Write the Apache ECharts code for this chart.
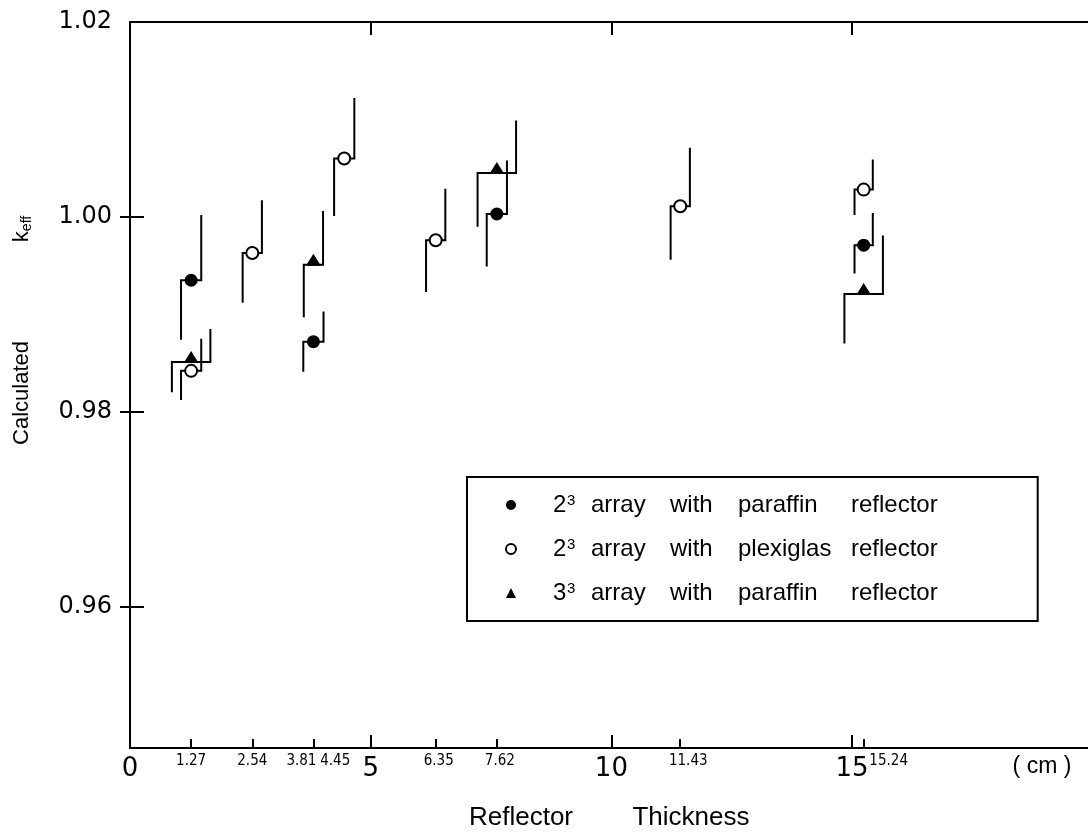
<!DOCTYPE html>
<html><head><meta charset="utf-8">
<script src="https://cdn.jsdelivr.net/npm/echarts@6/dist/echarts.min.js"></script>
<style>html,body{margin:0;padding:0;background:#fff}#c{width:1088px;height:833px}</style>
</head><body><div id="c"></div>
<script>
// ---- data (reflector thickness in cm, calculated k_eff) ----
const seriesNames = ['2x3 paraffin', '2x3 plexiglas', '3x3 paraffin'];

const paraffin2X    = [1.27, 3.81, 7.62, 15.24];
const paraffin2K    = [0.9935, 0.9872, 1.0003, 0.9971];
const paraffin2Low  = [0.9874, 0.9841, 0.9949, 0.9942];
const paraffin2High = [1.0002, 0.9903, 1.0058, 1.0004];

const plexiglas2X    = [1.27, 2.54, 4.45, 6.35, 11.43, 15.24];
const plexiglas2K    = [0.9842, 0.9963, 1.0060, 0.9976, 1.0011, 1.0028];
const plexiglas2Low  = [0.9812, 0.9912, 1.0001, 0.9923, 0.9956, 1.0002];
const plexiglas2High = [0.9875, 1.0017, 1.0122, 1.0029, 1.0071, 1.0059];

const paraffin3X    = [1.27, 3.81, 7.62, 15.24];
const paraffin3K    = [0.9851, 0.9951, 1.0045, 0.9921];
const paraffin3Low  = [0.9820, 0.9897, 0.9990, 0.9870];
const paraffin3High = [0.9885, 1.0006, 1.0099, 0.9981];

const majorXLabels = [0, 5, 10, 15];
const majorXTicks  = [5, 10, 15];
const minorXLabels = [1.27, 2.54, 3.81, 4.45, 6.35, 7.62, 11.43, 15.24];
const minorXTicks  = [1.27, 2.54, 3.81, 6.35, 7.62, 11.43, 15.24];
const yLabels = [0.96, 0.98, 1.00, 1.02];
const yTicks  = [0.96, 0.98, 1.00];

const legendBase = ['2', '2', '3'];
const legendMaterial = ['paraffin', 'plexiglas', 'paraffin'];

// ---- drawing parameters ----
// half width of the step bar, in cm
const stepHalf = {
  0: [0.21, 0.21, 0.21, 0.19],
  1: [0.21, 0.2, 0.21, 0.2, 0.2, 0.19],
  2: [0.4, 0.2, 0.4, 0.4]
};
// horizontal nudge (px) of crowded minor tick labels, as in the original drawing
const minorLabelShift = {'3.81': -12, '4.45': -9, '6.35': 3, '7.62': 3, '11.43': 8, '15.24': 25};
const MINOR_FONT = '"Liberation Sans Narrow", "DejaVu Sans Condensed", "DejaVu Sans"';

const groups = [
  [paraffin2X, paraffin2K, paraffin2Low, paraffin2High],
  [plexiglas2X, plexiglas2K, plexiglas2Low, plexiglas2High],
  [paraffin3X, paraffin3K, paraffin3Low, paraffin3High]
];

const symbolDefs = [
  {symbol: 'circle', symbolSize: 13, symbolOffset: [0, 0], itemStyle: {color: '#000', opacity: 1}},
  {symbol: 'circle', symbolSize: 12, symbolOffset: [0, 0], itemStyle: {color: '#fff', borderColor: '#000', borderWidth: 2, opacity: 1}},
  {symbol: 'triangle', symbolSize: [15, 12], symbolOffset: [0, -5], itemStyle: {color: '#000', opacity: 1}}
];

const series = [];
groups.forEach(function (g, gi) {
  const rows = g[0].map(function (x, i) { return [x, g[1][i], g[2][i], g[3][i], stepHalf[gi][i]]; });
  series.push({
    type: 'custom', name: seriesNames[gi] + ' bars', xAxisIndex: 0, yAxisIndex: 0, z: 2,
    encode: {x: 0, y: 1}, data: rows, silent: true,
    renderItem: function (params, api) {
      const x = api.value(0), y = api.value(1), lo = api.value(2), hi = api.value(3), d = api.value(4);
      const pts = [api.coord([x - d, lo]), api.coord([x - d, y]), api.coord([x + d, y]), api.coord([x + d, hi])];
      return {type: 'polyline', shape: {points: pts}, style: {stroke: '#000', lineWidth: 2, fill: null}};
    }
  });
  series.push(Object.assign({
    type: 'scatter', name: seriesNames[gi], xAxisIndex: 0, yAxisIndex: 0, z: 3,
    emphasis: {disabled: true},
    data: g[0].map(function (x, i) { return [x, g[1][i]]; })
  }, symbolDefs[gi]));
});

const chart = echarts.init(document.getElementById('c'), null, {renderer: 'canvas'});
const axisLine = {show: true, onZero: false, lineStyle: {color: '#000', width: 2}};
const tickLine = {color: '#000', width: 2};
const X_MIN = 0, X_MAX = 19.9, Y_MIN = 0.9455, Y_MAX = 1.02;

const minorRich = {n: {fontSize: 15, fontFamily: MINOR_FONT, color: '#000'}};
Object.keys(minorLabelShift).forEach(function (k, i) {
  const s = minorLabelShift[k];
  minorRich['m' + i] = {fontSize: 15, fontFamily: MINOR_FONT, color: '#000',
    padding: s > 0 ? [0, 0, 0, 2 * s] : [0, -2 * s, 0, 0]};
});

chart.setOption({
  backgroundColor: '#fff',
  animation: false,
  grid: {left: 130, right: 0, top: 22, bottom: 85},
  xAxis: [
    {type: 'value', min: X_MIN, max: X_MAX, position: 'bottom', axisLine: axisLine,
      axisTick: {show: true, inside: true, length: 13, customValues: majorXTicks, lineStyle: tickLine},
      axisLabel: {customValues: majorXLabels, margin: 8, fontSize: 26, fontFamily: 'DejaVu Sans', color: '#000',
        formatter: function (v) { return String(v); }},
      splitLine: {show: false}},
    {type: 'value', min: X_MIN, max: X_MAX, position: 'bottom', axisLine: {show: false},
      axisTick: {show: true, inside: true, length: 9, customValues: minorXTicks, lineStyle: tickLine},
      axisLabel: {customValues: minorXLabels, margin: 6, fontSize: 15, fontFamily: MINOR_FONT, color: '#000',
        rich: minorRich,
        formatter: function (v) {
          const t = v.toFixed(2);
          const keys = Object.keys(minorLabelShift);
          const idx = keys.indexOf(t);
          return idx >= 0 ? '{m' + idx + '|' + t + '}' : '{n|' + t + '}';
        }},
      splitLine: {show: false}},
    {type: 'value', min: X_MIN, max: X_MAX, position: 'top', axisLine: axisLine,
      axisTick: {show: true, inside: true, length: 13, customValues: majorXTicks, lineStyle: tickLine},
      axisLabel: {show: false}, splitLine: {show: false}}
  ],
  yAxis: [
    {type: 'value', min: Y_MIN, max: Y_MAX, position: 'left', axisLine: axisLine,
      axisTick: {show: true, inside: true, length: 14, customValues: yTicks, lineStyle: tickLine},
      axisLabel: {customValues: yLabels, margin: 18, fontSize: 24, fontFamily: 'DejaVu Sans', color: '#000',
        formatter: function (v) { return v.toFixed(2); }},
      splitLine: {show: false}},
    {type: 'value', min: Y_MIN, max: Y_MAX, position: 'right', axisLine: {show: false},
      axisTick: {show: true, inside: true, length: 10, customValues: yTicks, lineStyle: tickLine},
      axisLabel: {show: false}, splitLine: {show: false}}
  ],
  legend: {
    data: seriesNames, orient: 'vertical', left: 467, top: 477,
    backgroundColor: '#fff', borderColor: '#000', borderWidth: 2, borderRadius: 0,
    padding: [16, 100, 16, 38], itemGap: 20, itemWidth: 10, itemHeight: 10,
    selectedMode: false,
    formatter: function (name) {
      const i = seriesNames.indexOf(name);
      return '{sp|}{n|' + legendBase[i] + '}{s|3}{w1|array}{w2|with}{w3|' + legendMaterial[i] + '}{w4|reflector}';
    },
    textStyle: {
      color: '#000', fontFamily: 'Liberation Sans', fontSize: 24,
      rich: {
        sp: {width: 32, height: 25},
        n: {fontSize: 24, width: 14, height: 25, fontFamily: 'Liberation Sans', color: '#000'},
        s: {fontSize: 15, width: 24, height: 25, padding: [0, 0, 9, 0], fontFamily: 'Liberation Sans', color: '#000', verticalAlign: 'top'},
        w1: {fontSize: 24, width: 79, fontFamily: 'Liberation Sans', color: '#000'},
        w2: {fontSize: 24, width: 68, fontFamily: 'Liberation Sans', color: '#000'},
        w3: {fontSize: 24, width: 113, fontFamily: 'Liberation Sans', color: '#000'},
        w4: {fontSize: 24, fontFamily: 'Liberation Sans', color: '#000'}
      }
    }
  },
  graphic: [
    {type: 'text', x: 521, y: 818, style: {text: 'Reflector', fontSize: 26, fontFamily: 'Liberation Sans', fill: '#000', align: 'center', verticalAlign: 'middle'}},
    {type: 'text', x: 691, y: 818, style: {text: 'Thickness', fontSize: 26, fontFamily: 'Liberation Sans', fill: '#000', align: 'center', verticalAlign: 'middle'}},
    {type: 'text', x: 1042, y: 767, style: {text: '( cm )', fontSize: 23, fontFamily: 'Liberation Sans', fill: '#000', align: 'center', verticalAlign: 'middle'}},
    {type: 'text', x: 22, y: 393, rotation: Math.PI / 2, style: {text: 'Calculated', fontSize: 22, fontFamily: 'Liberation Sans', fill: '#000', align: 'center', verticalAlign: 'middle'}},
    {type: 'text', x: 22, y: 229, rotation: Math.PI / 2, style: {
      text: '{k|k}{e|eff}', align: 'center', verticalAlign: 'middle', fill: '#000',
      rich: {k: {fontSize: 22, fontFamily: 'Liberation Sans', fill: '#000', height: 24},
             e: {fontSize: 14, fontFamily: 'Liberation Sans', fill: '#000', height: 24, padding: [10, 0, 0, 0], verticalAlign: 'bottom'}}}}
  ],
  series: series
});
</script>
</body></html>
